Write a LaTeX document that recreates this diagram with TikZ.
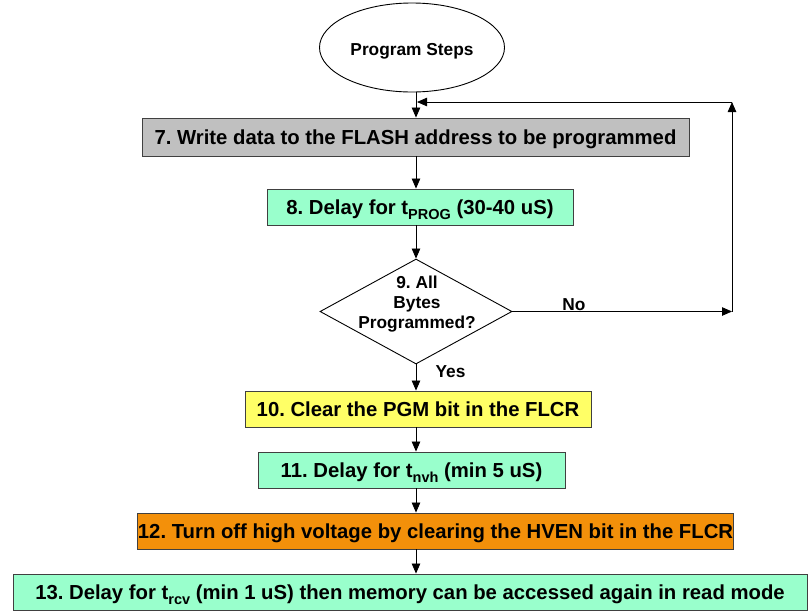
\documentclass[tikz,border=0pt]{standalone}
\usepackage{fontspec}
\setmainfont{Liberation Sans}
\usetikzlibrary{shapes.geometric,arrows.meta}
\definecolor{mint}{HTML}{99FFCC}
\definecolor{grayfill}{HTML}{C0C0C0}
\definecolor{yel}{HTML}{FFFF66}
\definecolor{orng}{HTML}{F3900A}
\frenchspacing
\newcommand{\mysub}[1]{\raisebox{-5.5pt}[0pt][0pt]{\fontsize{14.5}{14.5}\selectfont #1}}
\newcommand{\boxfont}{\fontsize{20.3}{24}\selectfont\bfseries}
\newcommand{\smallfont}{\fontsize{17.3}{20}\selectfont\bfseries}
\begin{document}
\begin{tikzpicture}[x=1pt,y=-1pt,
  box/.style={draw=black!75, line width=0.9pt, inner sep=0pt, font=\boxfont,
              text height=14.5pt, text depth=0pt, anchor=center},
  arr/.style={-{Triangle[length=10pt,width=8.5pt]}, line width=0.8pt},
  lbl/.style={font=\smallfont, inner sep=0pt}]
\useasboundingbox (0,0) rectangle (808,611);
\coordinate (spine) at (416,0);
\node[ellipse, draw, line width=0.9pt, minimum width=185pt, minimum height=89pt,
      inner sep=0pt, font=\smallfont, text height=15pt, text depth=0pt] (start) at (412,47.5) {Program Steps};
\node[box, fill=grayfill, minimum width=547pt, minimum height=38pt] (b7) at (415.5,137)
  {7. Write data to the FLASH address to be programmed};
\node[box, fill=mint, minimum width=306pt, minimum height=36pt] (b8) at (420,207)
  {8. Delay for t\mysub{PROG} (30-40 uS)};
\node[diamond, draw, line width=0.9pt, minimum width=192pt, minimum height=105pt,
      inner sep=0pt] (d9) at (416,311.5) {};
\node[lbl, align=center] (t9) at (417,304.5) {9. All\\Bytes\\Programmed?};
\node[box, fill=yel, minimum width=346pt, minimum height=36pt] (b10) at (418,409)
  {10. Clear the PGM bit in the FLCR};
\node[box, fill=mint, minimum width=307pt, minimum height=36pt] (b11) at (411.5,470)
  {11. Delay for t\mysub{nvh} (min 5 uS)};
\node[box, fill=orng, minimum width=591pt, minimum height=36pt] (b12) at (435.5,531)
  {12. Turn off high voltage by clearing the HVEN bit in the FLCR};
\node[box, fill=mint, minimum width=794pt, minimum height=36pt] (b13) at (410,592)
  {13. Delay for t\mysub{rcv} (min 1 uS) then memory can be accessed again in read mode};
\node[lbl, anchor=base] (no) at (574,310) {No};
\node[lbl, anchor=base] (yes) at (450.5,377) {Yes};
\coordinate (nr) at (732,311.5);
\coordinate (tr) at (732,102);
\draw[arr] (start.south -| spine) -- (b7.north -| spine);
\draw[arr] (b7.south -| spine) -- (b8.north -| spine);
\draw[arr] (b8.south -| spine) -- (d9.north);
\draw[arr] (d9.south) -- (b10.north -| spine);
\draw[arr] (b10.south -| spine) -- (b11.north -| spine);
\draw[arr] (b11.south -| spine) -- (b12.north -| spine);
\draw[arr] (b12.south -| spine) -- (b13.north -| spine);
\draw[arr] (d9.east) -- (nr);
\draw[arr] (nr) -- (tr);
\draw[arr, shorten >=1pt] (tr) -- (tr -| spine);
\end{tikzpicture}
\end{document}
